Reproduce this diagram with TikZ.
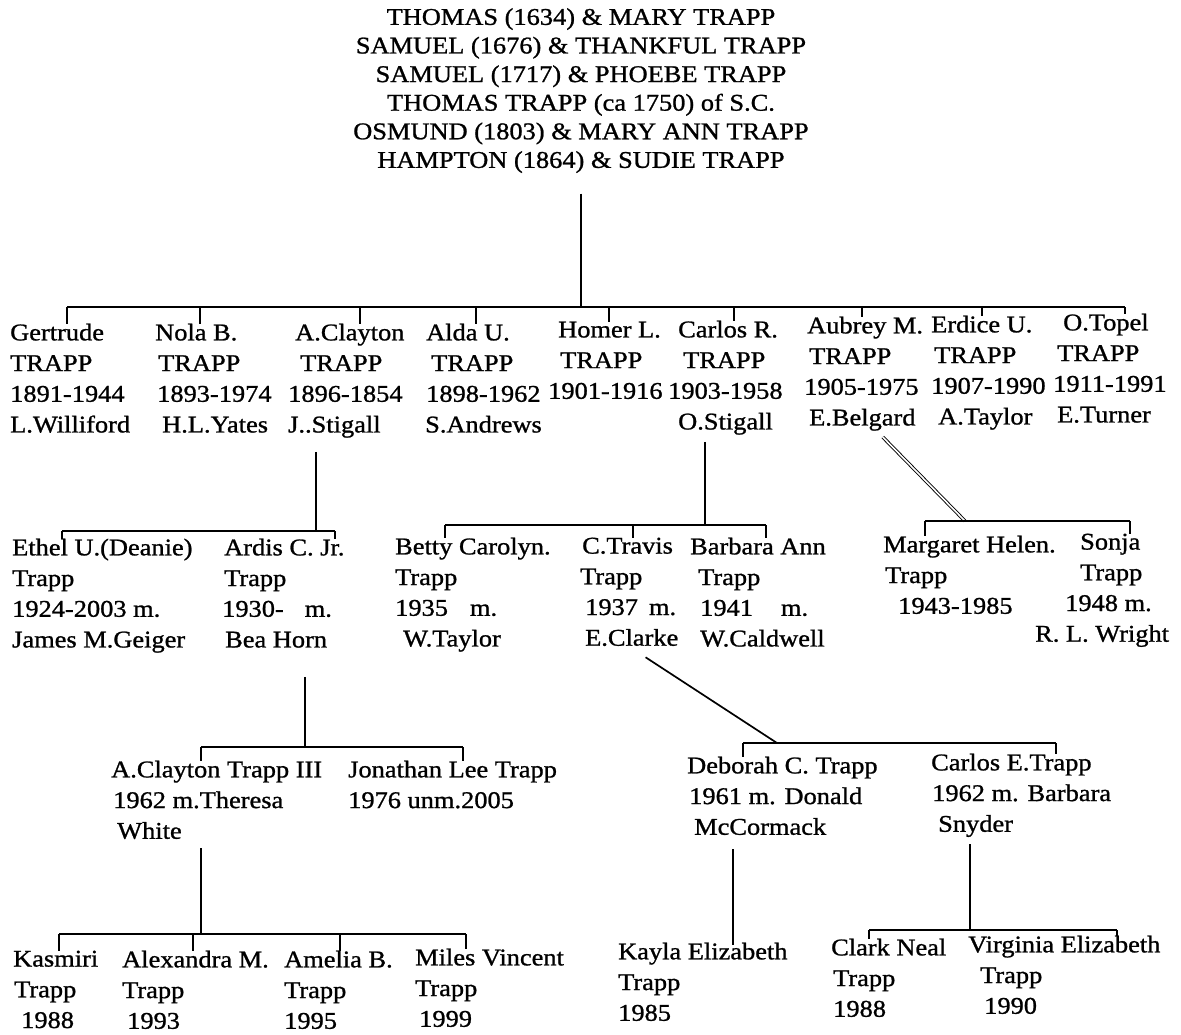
\documentclass[tikz,border=0pt]{standalone}
\usepackage{fontspec}
\setmainfont{Liberation Serif}[FakeStretch=1.1,FakeBold=1.0]
\usetikzlibrary{positioning,calc}

\begin{document}
\begin{tikzpicture}[
  x=1pt, y=-1pt,
  head/.style={anchor=north, inner sep=0pt, align=center, font=\fontsize{24}{28.6}\selectfont, execute at begin node=\strut},
  kid/.style={anchor=north west, inner sep=0pt, align=left, font=\fontsize{24}{30.7}\selectfont, execute at begin node=\strut},
  link/.style={line width=1.7pt},
  dbl/.style={double, double distance=1.6pt, line width=0.9pt}
]
% page
\fill[white] (0,0) rectangle (1181,1034);
\useasboundingbox (0,0) rectangle (1181,1034);

% Ancestors
\node[head] (hdr) at (581,8) {THOMAS (1634) \& MARY TRAPP\\SAMUEL (1676) \& THANKFUL TRAPP\\SAMUEL (1717) \& PHOEBE TRAPP\\THOMAS TRAPP (ca 1750) of S.C.\\OSMUND (1803) \& MARY ANN TRAPP\\HAMPTON (1864) \& SUDIE TRAPP};

% Children of Hampton & Sudie
\node[kid] (gert) at (10,323.5) {Gertrude\\TRAPP\\1891-1944\\L.Williford};
\node[kid] (nola) at (155,323.5) {Nola B.\\\hspace*{3pt}TRAPP\\\hspace*{2pt}1893-1974\\\hspace*{7pt}H.L.Yates};
\node[kid] (clay) at (288,323.5) {\hspace*{7pt}A.Clayton\\\hspace*{12pt}TRAPP\\1896-1854\\J..Stigall};
\node[kid] (alda) at (425,323.5) {\hspace*{1pt}Alda U.\\\hspace*{6pt}TRAPP\\\hspace*{1pt}1898-1962\\S.Andrews};
\node[kid] (homer) at (548,321.5) {\hspace*{10pt}Homer L.\\\hspace*{12pt}TRAPP\\1901-1916};
\node[kid] (carlos) at (668,320.5) {\hspace*{10pt}Carlos R.\\\hspace*{15pt}TRAPP\\1903-1958\\\hspace*{10pt}O.Stigall};
\node[kid] (aubrey) at (804,316.5) {\hspace*{3pt}Aubrey M.\\\hspace*{5pt}TRAPP\\1905-1975\\\hspace*{5pt}E.Belgard};
\node[kid] (erdice) at (931,315.5) {Erdice U.\\\hspace*{3pt}TRAPP\\1907-1990\\\hspace*{7pt}A.Taylor};
\node[kid] (topel) at (1053,313.5) {\hspace*{10pt}O.Topel\\\hspace*{4pt}TRAPP\\1911-1991\\\hspace*{4pt}E.Turner};

% Grandchildren
\node[kid] (ethel) at (12,538.5) {Ethel U.(Deanie)\\Trapp\\1924-2003 m.\\James M.Geiger};
\node[kid] (ardis) at (222,538.5) {\hspace*{2pt}Ardis C. Jr.\\\hspace*{2pt}Trapp\\1930-\hspace{21pt}m.\\\hspace*{3pt}Bea Horn};
\node[kid] (betty) at (395,537.5) {Betty Carolyn.\\Trapp\\1935\hspace{22pt}m.\\\hspace*{8pt}W.Taylor};
\node[kid] (travis) at (580,537.5) {\hspace*{2pt}C.Travis\\Trapp\\\hspace*{5pt}1937\hspace{11pt}m.\\\hspace*{5pt}E.Clarke};
\node[kid] (barbara) at (690,537.5) {Barbara Ann\\\hspace*{8pt}Trapp\\\hspace*{10pt}1941\hspace{28pt}m.\\\hspace*{10pt}W.Caldwell};
\node[kid] (margaret) at (883,535.5) {Margaret Helen.\\\hspace*{2pt}Trapp\\\hspace*{15pt}1943-1985};
\node[kid] (sonja) at (1035,533.5) {\hspace*{45pt}Sonja\\\hspace*{45pt}Trapp\\\hspace*{30pt}1948 m.\\R. L. Wright};

% Great-grandchildren
\node[kid] (clay3) at (111,760.5) {A.Clayton Trapp III\\\hspace*{2pt}1962 m.Theresa\\\hspace*{6pt}White};
\node[kid] (jon) at (348,760.5) {Jonathan Lee Trapp\\1976 unm.2005};
\node[kid] (deb) at (687,756.5) {Deborah C. Trapp\\\hspace*{2pt}1961 m. Donald\\\hspace*{7pt}McCormack};
\node[kid] (carlosE) at (931,753.5) {Carlos E.Trapp\\\hspace*{1pt}1962 m. Barbara\\\hspace*{7pt}Snyder};

% Youngest generation
\node[kid] (kas) at (13,950.5) {Kasmiri\\\hspace*{1pt}Trapp\\\hspace*{8pt}1988};
\node[kid] (alex) at (122,950.5) {Alexandra M.\\Trapp\\\hspace*{5pt}1993};
\node[kid] (amelia) at (284,950.5) {Amelia B.\\Trapp\\1995};
\node[kid] (miles) at (415,948.5) {Miles Vincent\\Trapp\\\hspace*{4pt}1999};
\node[kid] (kayla) at (618,942.5) {Kayla Elizabeth\\Trapp\\1985};
\node[kid] (clark) at (831,938.5) {Clark Neal\\\hspace*{2pt}Trapp\\\hspace*{2pt}1988};
\node[kid] (virginia) at (968,935.5) {Virginia Elizabeth\\\hspace*{12pt}Trapp\\\hspace*{16pt}1990};

% Bar under the ancestors
\coordinate (j1) at (581,307);
\coordinate (t1) at (67,307);   \coordinate (t2) at (200,307);
\coordinate (t3) at (360,307);  \coordinate (t4) at (476,307);
\coordinate (t5) at (609,307);  \coordinate (t6) at (734,307);
\coordinate (t7) at (862,307);  \coordinate (t8) at (982,307);
\coordinate (t9) at (1125,307);
\draw[link, shorten <=17pt] (hdr.south) -- (j1);
\draw[link] (t1) -- (t9);
\foreach \t/\n in {t1/gert, t2/nola, t3/clay, t4/alda, t5/homer, t6/carlos, t7/aubrey, t8/erdice, t9/topel}
  \draw[link] (\t) -- (\t |- \n.north);

% A.Clayton's children
\coordinate (j2) at (316,531);
\coordinate (c1) at (62,531); \coordinate (c2) at (335,531);
\draw[link, shorten <=10pt] (j2 |- clay.south) -- (j2);
\draw[link] (c1) -- (c2);
\draw[link] (c1) -- (c1 |- ethel.north);
\draw[link] (c2) -- (c2 |- ardis.north);

% Carlos R.'s children
\coordinate (j3) at (705,525);
\coordinate (r1) at (445,525); \coordinate (r2) at (633,525); \coordinate (r3) at (766,525);
\draw[link, shorten <=3pt] (j3 |- carlos.south) -- (j3);
\draw[link] (r1) -- (r3);
\foreach \t/\n in {r1/betty, r2/travis, r3/barbara}
  \draw[link] (\t) -- (\t |- \n.north);

% Aubrey's children (double stroke)
\coordinate (j4) at (965,521);
\coordinate (a1) at (925,521); \coordinate (a2) at (1130,521);
\draw[dbl, shorten <=3pt] ([xshift=17pt]aubrey.south) -- (j4);
\draw[link] (a1) -- (a2);
\draw[link] (a1) -- (a1 |- margaret.north);
\draw[link] (a2) -- (a2 |- sonja.north);

% Ardis's children
\coordinate (j5) at (305,747);
\coordinate (d1) at (201,747); \coordinate (d2) at (463,747);
\draw[link, shorten <=20pt] (j5 |- ardis.south) -- (j5);
\draw[link] (d1) -- (d2);
\draw[link] (d1) -- (d1 |- clay3.north);
\draw[link] (d2) -- (d2 |- jon.north);

% C.Travis's children
\coordinate (j6) at (777,743);
\coordinate (v1) at (743,743); \coordinate (v2) at (1056,743);
\draw[link, shorten <=4pt] ([xshift=13pt]travis.south) -- (j6);
\draw[link] (v1) -- (v2);
\draw[link] (v1) -- (v1 |- deb.north);
\draw[link] (v2) -- (v2 |- carlosE.north);

% A.Clayton III's children
\coordinate (j7) at (201,934);
\coordinate (k1) at (59,934);  \coordinate (k2) at (193,934);
\coordinate (k3) at (340,934); \coordinate (k4) at (466,934);
\draw[link] (j7 |- clay3.south) -- (j7);
\draw[link] (k1) -- (k4);
\foreach \t/\n in {k1/kas, k2/alex, k3/amelia, k4/miles}
  \draw[link] (\t) -- (\t |- \n.north);

% Deborah's daughter
\coordinate (j8) at (733,945);
\draw[link, shorten <=5pt] (j8 |- deb.south) -- (j8);

% Carlos E.'s children
\coordinate (j9) at (970,930);
\coordinate (s1) at (869,930); \coordinate (s2) at (1117,930);
\draw[link, shorten <=3pt] (j9 |- carlosE.south) -- (j9);
\draw[link] (s1) -- (s2);
\draw[link] (s1) -- (s1 |- clark.north);
\draw[link] (s2) -- (s2 |- virginia.north);
\end{tikzpicture}
\end{document}
